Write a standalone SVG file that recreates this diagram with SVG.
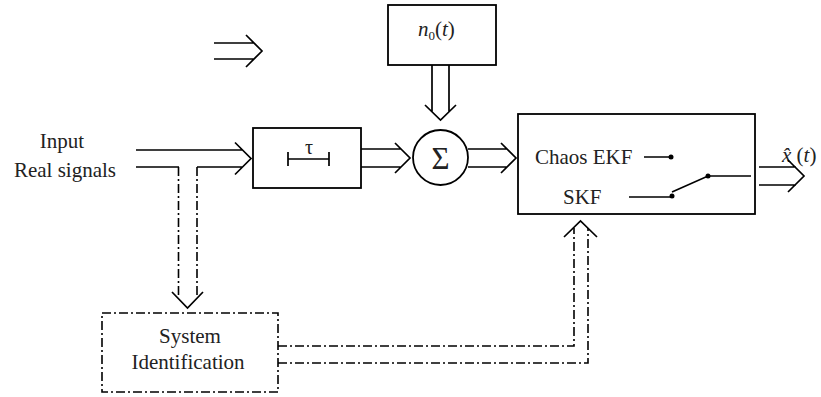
<svg xmlns="http://www.w3.org/2000/svg" width="821" height="397" viewBox="0 0 821 397">
<style>
.box{fill:none;stroke:#000;stroke-width:1.8}
.ln{fill:none;stroke:#000;stroke-width:1.7}
.dd{fill:none;stroke:#000;stroke-width:1.6;stroke-dasharray:9 3 2 3}
text{font-family:"Liberation Serif","Tinos","DejaVu Serif","Times New Roman",serif;font-size:21px;fill:#222}
.it{font-style:italic}
</style>
<rect width="821" height="397" fill="#fff"/>
<g id="input-label">
<text x="62" y="148" text-anchor="middle">Input</text>
<text x="65" y="177" text-anchor="middle">Real signals</text>
</g>
<g id="noise">
<rect class="box" x="388" y="5" width="108" height="60"/>
<text class="it" x="418" y="36">n<tspan style="font-style:normal;font-size:13px" dy="4">0</tspan><tspan dy="-4" style="font-style:normal">(</tspan>t<tspan style="font-style:normal">)</tspan></text>
</g>
<g id="delay">
<rect class="box" x="253" y="128" width="108" height="60"/>
<text x="309" y="154" style="font-size:20px" text-anchor="middle">τ</text>
<path class="ln" d="M288 159H329M288 152V166M329 152V166"/>
</g>
<g id="sum">
<circle class="box" cx="440.5" cy="157.5" r="27.5"/>
<text x="440.5" y="168.5" style="font-size:31px" text-anchor="middle">Σ</text>
</g>
<g id="filter">
<rect class="box" x="518" y="114" width="237" height="100"/>
<text x="535" y="164">Chaos EKF</text>
<text x="563" y="204">SKF</text>
<path class="ln" d="M644 157H671M629 197H672M672 192L708 176H751"/>
<circle cx="671" cy="157" r="2.5"/>
<circle cx="672" cy="196" r="2.5"/>
<circle cx="708" cy="176" r="2.5"/>
</g>
<g id="sysid">
<rect class="dd" x="102" y="313" width="176" height="79"/>
<text x="190" y="343" text-anchor="middle">System</text>
<text x="188" y="369" text-anchor="middle">Identification</text>
</g>
<g id="output-label">
<text x="782" y="162"><tspan class="it">x̂</tspan> (<tspan class="it">t</tspan>)</text>
</g>
<g id="connectors">
<path class="ln" d="M214 43H254M214 59H254M246 35L262 51L246 67"/>
<path class="ln" d="M136 150H242.5M136 167H179M197 167H242.5M235 142.5L251 158.5L235 174.5"/>
<path class="ln" d="M361 149H401M361 167H401M395 143L410 158L395 173"/>
<path class="ln" d="M468 149H507M468 167H507M501 143L516 158L501 173"/>
<path class="ln" d="M759 167H796M759 185H796M788 160L804 176L788 192"/>
<path class="ln" d="M432 65V112M449 65V112M425 105L440.5 120L456 105"/>
<path class="dd" d="M178.5 167V298M197 167V298"/>
<path class="ln" d="M172 292L187.5 308L203 292"/>
<path class="dd" d="M278 346H574V228M278 363H588V228"/>
<path class="ln" d="M564 237L580.5 221L597 237"/>
</g>
</svg>
